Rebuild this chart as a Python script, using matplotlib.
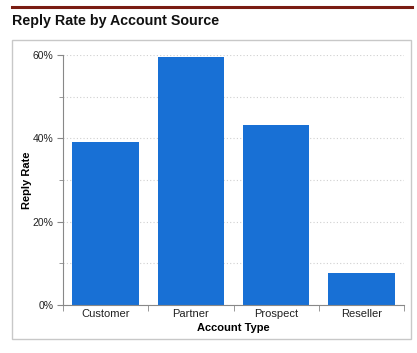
import matplotlib.pyplot as plt
from matplotlib.patches import Rectangle
from matplotlib.lines import Line2D
from matplotlib.ticker import FuncFormatter, MultipleLocator

categories = ["Customer", "Partner", "Prospect", "Reseller"]
reply_rate = [39.1, 59.5, 43.2, 7.7]

plt.rcParams['font.family'] = ['Liberation Sans', 'DejaVu Sans']

fig = plt.figure(figsize=(4.17, 3.53), dpi=100)

# top rule and panel frame
fig.add_artist(Line2D([12 / 417, 412 / 417], [1 - 6.5 / 353] * 2,
                      color='#7a1c12', linewidth=2.2))
fig.add_artist(Rectangle((12 / 417, 1 - 339 / 353), 399 / 417, 299 / 353,
                         transform=fig.transFigure, fill=False,
                         edgecolor='#c8c8c8', linewidth=1.0))
fig.text(12 / 417, 1 - 25 / 353, "Reply Rate by Account Source",
         fontsize=10.3, fontweight='bold', color='#111111', va='baseline')

ax = fig.add_axes([63 / 417, 1 - 305 / 353, 341 / 417, 250 / 353])
x = range(len(categories))
ax.bar(x, reply_rate, width=0.78, color='#1870d5', zorder=2)

ax.set_xlim(-0.5, 3.5)
ax.set_ylim(0, 60)
ax.yaxis.set_major_locator(MultipleLocator(20))
ax.yaxis.set_minor_locator(MultipleLocator(10))
ax.yaxis.set_major_formatter(FuncFormatter(lambda v, p: f"{v:.0f}%"))
ax.grid(axis='y', which='both', linestyle=(0, (1, 2)), color='#d0d0d0',
        linewidth=0.8, zorder=0)

ax.set_xticks(list(x))
ax.set_xticklabels(categories)
ax.set_xticks([-0.5, 0.5, 1.5, 2.5, 3.5], minor=True)
ax.tick_params(axis='x', which='major', length=0, pad=3, labelsize=8,
               labelcolor='#222222')
ax.tick_params(axis='x', which='minor', length=4, color='#888888')
ax.tick_params(axis='y', which='major', length=4, color='#888888',
               labelsize=7.5, labelcolor='#222222', pad=3)
ax.tick_params(axis='y', which='minor', length=3, color='#888888')

for side in ['top', 'right']:
    ax.spines[side].set_visible(False)
for side in ['left', 'bottom']:
    ax.spines[side].set_color('#888888')
    ax.spines[side].set_linewidth(0.8)

ax.set_xlabel("Account Type", fontsize=8, fontweight='bold', labelpad=3)
ax.set_ylabel("Reply Rate", fontsize=8, fontweight='bold', labelpad=0)

fig.savefig("out.png", dpi=100)
